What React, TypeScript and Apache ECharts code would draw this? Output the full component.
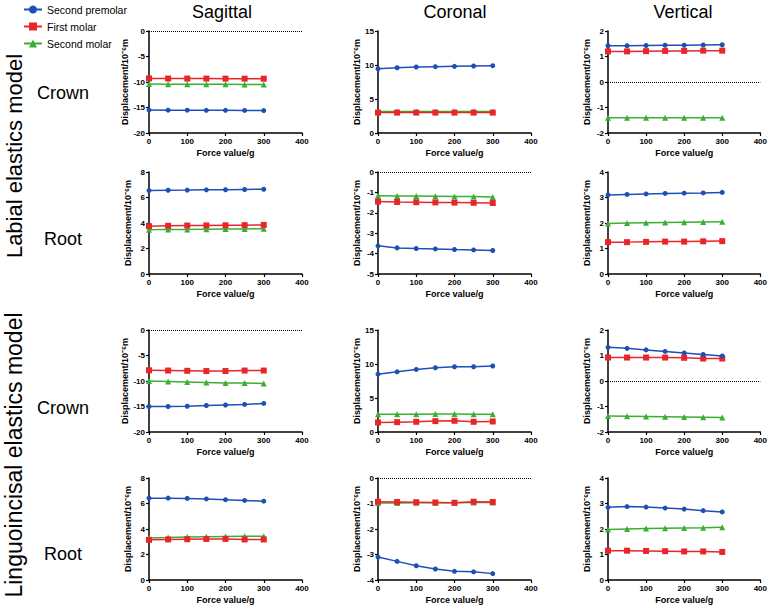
import React, { useEffect, useRef } from "react";
import * as echarts from "echarts";

const forces = [0, 50, 100, 150, 200, 250, 300];
const seriesNames = ["Second premolar", "First molar", "Second molar"];
const colTitles = ["Sagittal", "Coronal", "Vertical"];
const rowTitles = ["Crown", "Root", "Crown", "Root"];
const modelTitles = ["Labial elastics model", "Linguoincisal elastics model"];

// Labial elastics model
const labCrownSagPremolar = [-15.5, -15.52, -15.53, -15.55, -15.55, -15.57, -15.6];
const labCrownSagMolar1 = [-9.3, -9.32, -9.33, -9.33, -9.34, -9.35, -9.35];
const labCrownSagMolar2 = [-10.4, -10.42, -10.43, -10.44, -10.45, -10.47, -10.5];
const labCrownCorPremolar = [9.45, 9.6, 9.7, 9.75, 9.8, 9.85, 9.9];
const labCrownCorMolar1 = [3.0, 3.0, 3.0, 3.0, 3.0, 3.0, 3.0];
const labCrownCorMolar2 = [3.15, 3.15, 3.15, 3.15, 3.15, 3.15, 3.15];
const labCrownVerPremolar = [1.42, 1.42, 1.43, 1.44, 1.44, 1.45, 1.46];
const labCrownVerMolar1 = [1.2, 1.2, 1.21, 1.22, 1.22, 1.23, 1.23];
const labCrownVerMolar2 = [-1.4, -1.4, -1.4, -1.4, -1.4, -1.4, -1.4];

const labRootSagPremolar = [6.55, 6.57, 6.58, 6.6, 6.61, 6.63, 6.65];
const labRootSagMolar1 = [3.75, 3.78, 3.8, 3.81, 3.82, 3.83, 3.85];
const labRootSagMolar2 = [3.48, 3.5, 3.5, 3.51, 3.52, 3.53, 3.55];
const labRootCorPremolar = [-3.62, -3.72, -3.75, -3.77, -3.8, -3.82, -3.85];
const labRootCorMolar1 = [-1.45, -1.47, -1.48, -1.49, -1.5, -1.51, -1.52];
const labRootCorMolar2 = [-1.17, -1.18, -1.18, -1.19, -1.2, -1.2, -1.22];
const labRootVerPremolar = [3.1, 3.12, 3.14, 3.16, 3.17, 3.18, 3.2];
const labRootVerMolar1 = [1.25, 1.25, 1.26, 1.27, 1.27, 1.28, 1.29];
const labRootVerMolar2 = [1.98, 2.0, 2.01, 2.02, 2.03, 2.04, 2.05];

// Linguoincisal elastics model
const linCrownSagPremolar = [-15.0, -15.0, -14.95, -14.8, -14.7, -14.6, -14.4];
const linCrownSagMolar1 = [-7.9, -7.95, -8.0, -8.05, -8.05, -7.95, -7.95];
const linCrownSagMolar2 = [-10.0, -10.1, -10.2, -10.3, -10.4, -10.4, -10.5];
const linCrownCorPremolar = [8.5, 8.85, 9.2, 9.45, 9.6, 9.6, 9.7];
const linCrownCorMolar1 = [1.4, 1.45, 1.5, 1.6, 1.65, 1.5, 1.55];
const linCrownCorMolar2 = [2.6, 2.6, 2.6, 2.65, 2.65, 2.6, 2.6];
const linCrownVerPremolar = [1.32, 1.28, 1.22, 1.16, 1.1, 1.04, 0.98];
const linCrownVerMolar1 = [0.92, 0.92, 0.92, 0.92, 0.91, 0.88, 0.88];
const linCrownVerMolar2 = [-1.37, -1.38, -1.39, -1.4, -1.41, -1.42, -1.43];

const linRootSagPremolar = [6.42, 6.42, 6.4, 6.36, 6.3, 6.24, 6.18];
const linRootSagMolar1 = [3.15, 3.18, 3.2, 3.22, 3.22, 3.18, 3.18];
const linRootSagMolar2 = [3.3, 3.33, 3.37, 3.4, 3.42, 3.43, 3.43];
const linRootCorPremolar = [-3.1, -3.27, -3.44, -3.57, -3.66, -3.68, -3.75];
const linRootCorMolar1 = [-0.93, -0.94, -0.95, -0.96, -0.97, -0.93, -0.94];
const linRootCorMolar2 = [-0.98, -0.98, -0.97, -0.97, -0.97, -0.96, -0.96];
const linRootVerPremolar = [2.85, 2.88, 2.86, 2.82, 2.78, 2.72, 2.67];
const linRootVerMolar1 = [1.15, 1.15, 1.14, 1.13, 1.12, 1.12, 1.1];
const linRootVerMolar2 = [1.98, 2.0, 2.02, 2.03, 2.04, 2.05, 2.07];

// y-axis ranges per panel: [min, max, interval]
const yRanges = [
  [-20, 0, 5], [0, 15, 5], [-2, 2, 1],
  [0, 8, 2], [-5, 0, 1], [0, 4, 1],
  [-20, 0, 5], [0, 15, 5], [-2, 2, 1],
  [0, 8, 2], [-4, 0, 1], [0, 4, 1],
];

const panelData = [
  [labCrownSagPremolar, labCrownSagMolar1, labCrownSagMolar2],
  [labCrownCorPremolar, labCrownCorMolar1, labCrownCorMolar2],
  [labCrownVerPremolar, labCrownVerMolar1, labCrownVerMolar2],
  [labRootSagPremolar, labRootSagMolar1, labRootSagMolar2],
  [labRootCorPremolar, labRootCorMolar1, labRootCorMolar2],
  [labRootVerPremolar, labRootVerMolar1, labRootVerMolar2],
  [linCrownSagPremolar, linCrownSagMolar1, linCrownSagMolar2],
  [linCrownCorPremolar, linCrownCorMolar1, linCrownCorMolar2],
  [linCrownVerPremolar, linCrownVerMolar1, linCrownVerMolar2],
  [linRootSagPremolar, linRootSagMolar1, linRootSagMolar2],
  [linRootCorPremolar, linRootCorMolar1, linRootCorMolar2],
  [linRootVerPremolar, linRootVerMolar1, linRootVerMolar2],
];

const colors = ["#1f4fb4", "#e8262a", "#3cae35"];
const symbols = ["circle", "rect", "triangle"];
const symbolSizes = [5, 6, 6];

const gridLefts = [149, 378, 608];
const gridTops = [31, 172, 330, 478];
const gridW = 153;
const gridH = 102;
const FONT = "Liberation Sans, Arial, sans-serif";

export default function App() {
  const ref = useRef<HTMLDivElement>(null);
  useEffect(() => {
    if (!ref.current) return;
    const chart = echarts.init(ref.current, undefined, { renderer: "svg" });
    const grids: any[] = [];
    const xAxes: any[] = [];
    const yAxes: any[] = [];
    const series: any[] = [];
    for (let p = 0; p < 12; p++) {
      const r = Math.floor(p / 3);
      const c = p % 3;
      grids.push({ left: gridLefts[c], top: gridTops[r], width: gridW, height: gridH });
      const axisLine = { lineStyle: { color: "#000", width: 1.5 } };
      const axisTick = { show: true, length: 3, lineStyle: { color: "#000", width: 1.2 } };
      const axisLabel = { color: "#000", fontFamily: FONT, fontWeight: "bold", fontSize: 8, margin: 4 };
      xAxes.push({
        type: "value", gridIndex: p, min: 0, max: 400, interval: 100,
        axisLine: { ...axisLine, onZero: false }, axisTick, axisLabel, splitLine: { show: false },
        name: "Force value/g", nameLocation: "middle", nameGap: 15,
        nameTextStyle: { color: "#000", fontFamily: FONT, fontWeight: "bold", fontSize: 9 },
      });
      const [mn, mx, iv] = yRanges[p];
      yAxes.push({
        type: "value", gridIndex: p, min: mn, max: mx, interval: iv,
        axisLine: { show: true, ...axisLine, onZero: false }, axisTick, axisLabel, splitLine: { show: false },
        name: "Displacement/10⁻⁶m", nameLocation: "middle", nameGap: 17, nameRotate: 90,
        nameTextStyle: { color: "#000", fontFamily: FONT, fontWeight: "bold", fontSize: 9 },
      });
      for (let s = 0; s < 3; s++) {
        const ser: any = {
          type: "line", name: seriesNames[s], xAxisIndex: p, yAxisIndex: p,
          data: forces.map((f, i) => [f, panelData[p][s][i]]),
          symbol: symbols[s], symbolSize: symbolSizes[s], showSymbol: true,
          itemStyle: { color: colors[s] }, lineStyle: { color: colors[s], width: 1.5 },
          z: 3 - s + 2,
        };
        if (s === 0 && mn < 0 && mx >= 0) {
          ser.markLine = {
            silent: true, symbol: ["none", "none"], label: { show: false },
            lineStyle: { type: "dotted", color: "#000", width: 1 },
            data: [{ yAxis: 0 }],
          };
        }
        series.push(ser);
      }
    }
    const graphics: any[] = [];
    const colCenters = [222, 455, 683];
    colTitles.forEach((t, i) =>
      graphics.push({
        type: "text", x: colCenters[i], y: 12,
        style: { text: t, fontSize: 18, fontFamily: FONT, fill: "#000", align: "center", verticalAlign: "middle" },
      })
    );
    const rowCenters = [93, 239, 408, 554];
    rowTitles.forEach((t, i) =>
      graphics.push({
        type: "text", x: 63, y: rowCenters[i],
        style: { text: t, fontSize: 18, fontFamily: FONT, fill: "#000", align: "center", verticalAlign: "middle" },
      })
    );
    const modelCenters = [156, 455];
    const modelSizes = [22, 23];
    modelTitles.forEach((t, i) =>
      graphics.push({
        type: "text", x: 14, y: modelCenters[i], rotation: Math.PI / 2,
        style: { text: t, fontSize: modelSizes[i], fontFamily: FONT, fill: "#000", align: "center", verticalAlign: "middle" },
      })
    );
    chart.setOption({
      animation: false,
      backgroundColor: "#fff",
      legend: {
        data: seriesNames, orient: "vertical", left: 18, top: -1, itemGap: 6, itemWidth: 18, itemHeight: 10,
        textStyle: { color: "#000", fontFamily: FONT, fontSize: 10.5 },
      },
      grid: grids, xAxis: xAxes, yAxis: yAxes, series, graphic: graphics,
    });
    return () => chart.dispose();
  }, []);
  return <div ref={ref} style={{ position: "fixed", left: 0, top: 0, width: 770, height: 611 }} />;
}
